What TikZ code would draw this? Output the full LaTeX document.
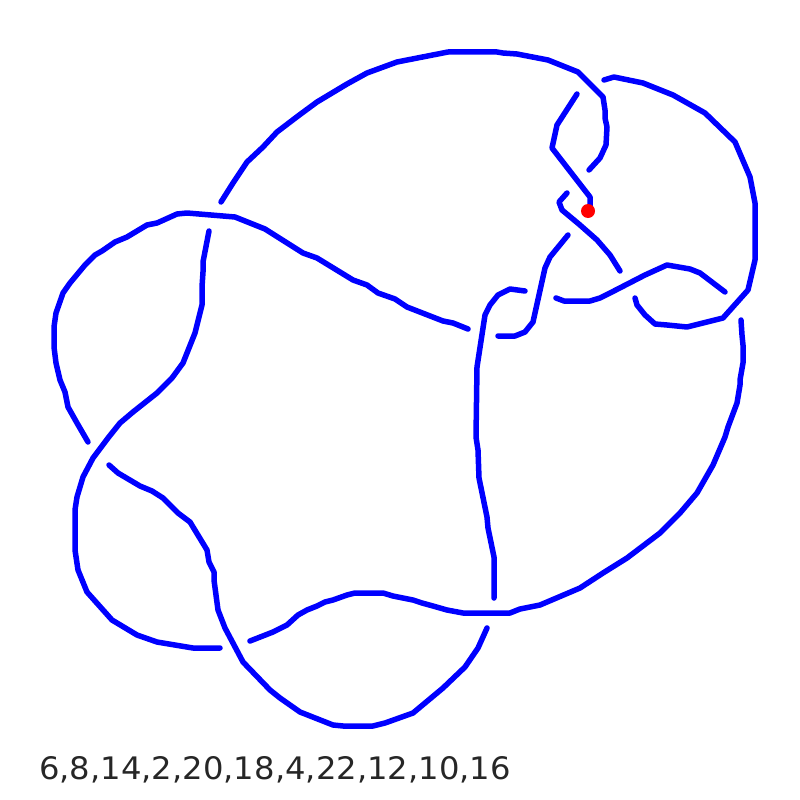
\documentclass[tikz,border=0pt]{standalone}
\usepackage{fontspec}
\setmainfont{DejaVu Sans}
\begin{document}
\begin{tikzpicture}[x=1pt,y=-1pt,
  knot/.style={draw=blue,line width=5.5pt,line cap=round,line join=round},
  codetext/.style={anchor=base west,inner sep=0pt,text=black!85}]
\useasboundingbox (0,0) rectangle (800,800);
% A: top arc
\draw[knot] (221,202) -- (233,183) -- (247,162) -- (263,147) -- (277,132) -- (298,116) -- (317,102) -- (347,84) -- (367,73) -- (397,62) -- (448,52) -- (497,52) -- (503,53) -- (517,54) -- (548,60) -- (578,72) -- (603,97) -- (605,110) -- (605,118) -- (607,127) -- (606,145) -- (600,158) -- (589,170);
% B: inner loop to dot
\draw[knot] (577,94) -- (557,125) -- (552,148) -- (583,188) -- (590,197) -- (590,207) -- (588,211);
% C
\draw[knot] (567,193) -- (559,202) -- (562,210) -- (580,225) -- (597,240) -- (610,255) -- (620,271);
% D
\draw[knot] (568,235) -- (550,257) -- (545,268) -- (533,322) -- (525,332) -- (515,336) -- (498,336);
% E: right outer arc
\draw[knot] (604,80) -- (614,77) -- (643,83) -- (673,95) -- (705,113) -- (735,142) -- (750,177) -- (755,203) -- (755,260) -- (748,290) -- (723,318) -- (687,327) -- (667,325) -- (655,324) -- (645,315) -- (637,305) -- (635,298);
% F
\draw[knot] (556,298) -- (564,301) -- (590,301) -- (600,298) -- (610,293) -- (645,275) -- (667,265) -- (690,269) -- (700,273) -- (725,292);
% G
\draw[knot] (525,291) -- (510,289) -- (498,295) -- (490,305) -- (485,315) -- (477,367) -- (476,437) -- (478,450) -- (479,478) -- (487,517) -- (488,528) -- (494,557) -- (494,598);
% H
\draw[knot] (88,442) -- (77,423) -- (68,407) -- (65,392) -- (60,380) -- (56,363) -- (54,347) -- (54,327) -- (56,313) -- (63,293) -- (70,283) -- (85,265) -- (95,255) -- (102,251) -- (115,242) -- (127,237) -- (147,225) -- (157,223) -- (177,214) -- (187,213) -- (235,217) -- (265,229) -- (303,253) -- (317,258) -- (353,280) -- (367,285) -- (378,293) -- (395,299) -- (407,307) -- (443,321) -- (453,323) -- (468,329);
% I
\draw[knot] (209,231) -- (203,262) -- (203,272) -- (202,287) -- (202,305) -- (195,333) -- (183,363) -- (172,378) -- (157,393) -- (133,412) -- (120,423) -- (108,438) -- (93,458) -- (83,477) -- (77,497) -- (75,510) -- (75,550) -- (78,570) -- (87,592) -- (112,620) -- (137,635) -- (157,642) -- (175,645) -- (193,648) -- (220,648);
% J
\draw[knot] (109,465) -- (118,473) -- (140,486) -- (152,491) -- (163,498) -- (178,513) -- (190,522) -- (207,550) -- (209,562) -- (214,572) -- (214,580) -- (218,610) -- (225,628) -- (243,662) -- (270,690) -- (280,698) -- (300,712) -- (333,725) -- (343,726) -- (373,726) -- (385,723) -- (413,713) -- (443,688) -- (465,667) -- (478,648) -- (487,628);
% K
\draw[knot] (250,641) -- (273,632) -- (287,625) -- (298,615) -- (307,610) -- (317,606) -- (325,602) -- (333,600) -- (347,595) -- (355,593) -- (383,593) -- (393,596) -- (413,600) -- (422,603) -- (433,606) -- (447,610) -- (463,613) -- (510,613) -- (520,609) -- (540,605) -- (580,588) -- (603,573) -- (627,558) -- (660,533) -- (680,513) -- (697,493) -- (713,465) -- (725,437) -- (728,427) -- (737,403) -- (740,385) -- (740,380) -- (743,363) -- (743,345) -- (742,335) -- (741,320);
% marker
\fill[red] (588,211) circle (7);
\node[codetext] (code) at (39,779) {\fontsize{31}{36}\selectfont\scalebox{1.04}[1]{6,8,14,2,20,18,4,22,12,10,16}};
\end{tikzpicture}
\end{document}
